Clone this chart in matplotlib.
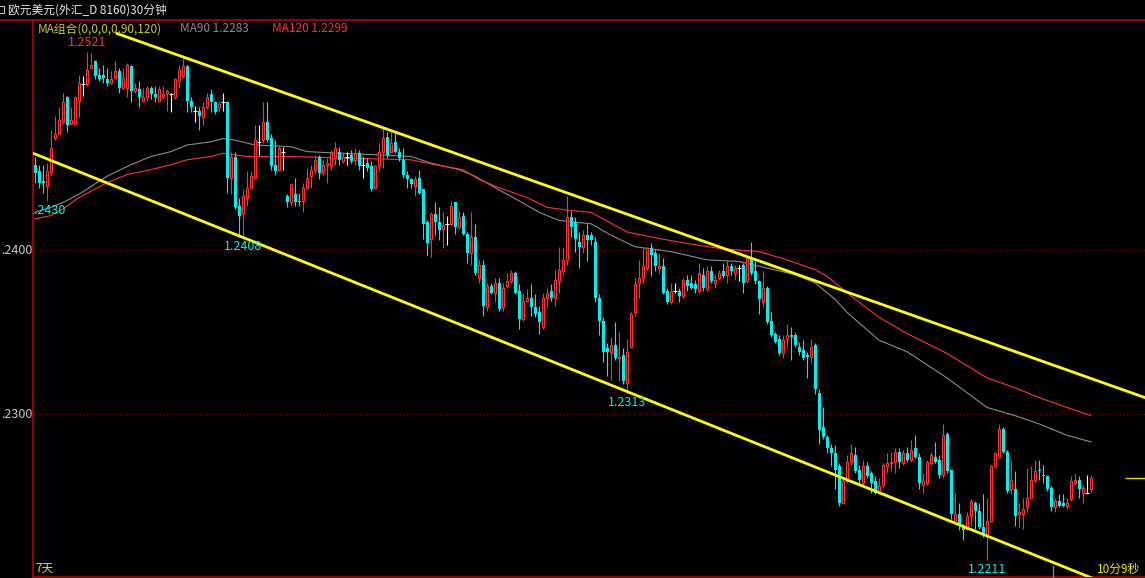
import numpy as np
import matplotlib
matplotlib.use("Agg")
import matplotlib.pyplot as plt
from matplotlib.patches import Rectangle

plt.rcParams['font.family'] = ['Noto Sans CJK SC', 'DejaVu Sans']

# EUR/USD 30 minute bars, oldest first
opens = [
    1.2452, 1.2448, 1.2442, 1.2439, 1.2447, 1.2468, 1.2471, 1.2478, 1.2493, 1.2477,
    1.2477, 1.2491, 1.2501, 1.2501, 1.2511, 1.2515, 1.2507, 1.2507, 1.2504, 1.2502,
    1.2505, 1.2509, 1.2499, 1.2499, 1.2512, 1.2497, 1.2498, 1.2491, 1.2493, 1.2499,
    1.2495, 1.2491, 1.2493, 1.2496, 1.2495, 1.2493, 1.2503, 1.2506, 1.2512, 1.2491,
    1.2485, 1.2485, 1.2481, 1.2487, 1.2495, 1.2490, 1.2487, 1.2490, 1.2490, 1.2444,
    1.2457, 1.2427, 1.2422, 1.2432, 1.2438, 1.2444, 1.2466, 1.2467, 1.2478, 1.2468,
    1.2452, 1.2449, 1.2460, 1.2433, 1.2429, 1.2434, 1.2430, 1.2430, 1.2438, 1.2445,
    1.2449, 1.2457, 1.2447, 1.2452, 1.2451, 1.2456, 1.2460, 1.2454, 1.2457, 1.2458,
    1.2455, 1.2459, 1.2452, 1.2453, 1.2451, 1.2438, 1.2451, 1.2460, 1.2469, 1.2460,
    1.2466, 1.2460, 1.2455, 1.2446, 1.2443, 1.2439, 1.2444, 1.2437, 1.2417, 1.2407,
    1.2422, 1.2417, 1.2413, 1.2416, 1.2416, 1.2429, 1.2414, 1.2421, 1.2410, 1.2398,
    1.2408, 1.2383, 1.2391, 1.2365, 1.2378, 1.2374, 1.2380, 1.2365, 1.2378, 1.2381,
    1.2386, 1.2375, 1.2358, 1.2369, 1.2371, 1.2365, 1.2362, 1.2353, 1.2371, 1.2375,
    1.2371, 1.2381, 1.2387, 1.2394, 1.2420, 1.2417, 1.2405, 1.2402, 1.2409, 1.2409,
    1.2405, 1.2371, 1.2357, 1.2340, 1.2338, 1.2342, 1.2334, 1.2336, 1.2319, 1.2341,
    1.2362, 1.2380, 1.2383, 1.2389, 1.2401, 1.2398, 1.2389, 1.2390, 1.2375, 1.2368,
    1.2375, 1.2375, 1.2372, 1.2382, 1.2380, 1.2379, 1.2375, 1.2385, 1.2376, 1.2387,
    1.2380, 1.2383, 1.2387, 1.2385, 1.2390, 1.2386, 1.2389, 1.2391, 1.2381, 1.2395,
    1.2387, 1.2381, 1.2368, 1.2377, 1.2357, 1.2349, 1.2346, 1.2337, 1.2346, 1.2348,
    1.2348, 1.2341, 1.2339, 1.2336, 1.2335, 1.2342, 1.2313, 1.2292, 1.2286, 1.2279,
    1.2276, 1.2268, 1.2246, 1.2259, 1.2271, 1.2275, 1.2266, 1.2258, 1.2268, 1.2264,
    1.2259, 1.2252, 1.2257, 1.2268, 1.2270, 1.2271, 1.2277, 1.2270, 1.2276, 1.2272,
    1.2279, 1.2274, 1.2257, 1.2258, 1.2270, 1.2274, 1.2272, 1.2263, 1.2288, 1.2266,
    1.2235, 1.2239, 1.2232, 1.2230, 1.2238, 1.2246, 1.2241, 1.2231, 1.2226, 1.2235,
    1.2268, 1.2274, 1.2291, 1.2277, 1.2254, 1.2254, 1.2239, 1.2239, 1.2243, 1.2249,
    1.2260, 1.2266, 1.2263, 1.2262, 1.2255, 1.2243, 1.2247, 1.2246, 1.2244, 1.2248,
    1.2258, 1.2260, 1.2252, 1.2252, 1.2254,
]
highs = [
    1.2457, 1.2452, 1.2452, 1.2453, 1.2473, 1.2482, 1.2487, 1.2496, 1.2494, 1.2487,
    1.2494, 1.2507, 1.2506, 1.2521, 1.2520, 1.2516, 1.2511, 1.2513, 1.2511, 1.2509,
    1.2515, 1.2511, 1.2511, 1.2514, 1.2513, 1.2502, 1.2503, 1.2499, 1.2500, 1.2500,
    1.2500, 1.2500, 1.2500, 1.2498, 1.2496, 1.2505, 1.2513, 1.2517, 1.2513, 1.2493,
    1.2488, 1.2487, 1.2490, 1.2496, 1.2498, 1.2491, 1.2491, 1.2496, 1.2491, 1.2460,
    1.2460, 1.2432, 1.2437, 1.2448, 1.2448, 1.2476, 1.2476, 1.2490, 1.2490, 1.2471,
    1.2467, 1.2464, 1.2463, 1.2434, 1.2441, 1.2444, 1.2435, 1.2441, 1.2450, 1.2452,
    1.2458, 1.2458, 1.2455, 1.2456, 1.2461, 1.2466, 1.2463, 1.2460, 1.2460, 1.2461,
    1.2462, 1.2461, 1.2457, 1.2456, 1.2454, 1.2452, 1.2465, 1.2475, 1.2472, 1.2472,
    1.2472, 1.2462, 1.2462, 1.2448, 1.2444, 1.2445, 1.2449, 1.2437, 1.2418, 1.2423,
    1.2429, 1.2426, 1.2423, 1.2421, 1.2430, 1.2429, 1.2424, 1.2423, 1.2411, 1.2423,
    1.2416, 1.2394, 1.2394, 1.2380, 1.2380, 1.2383, 1.2383, 1.2380, 1.2386, 1.2388,
    1.2387, 1.2379, 1.2374, 1.2376, 1.2379, 1.2373, 1.2366, 1.2374, 1.2377, 1.2379,
    1.2388, 1.2402, 1.2402, 1.2433, 1.2424, 1.2420, 1.2411, 1.2412, 1.2416, 1.2411,
    1.2408, 1.2373, 1.2359, 1.2343, 1.2347, 1.2356, 1.2350, 1.2340, 1.2346, 1.2362,
    1.2383, 1.2394, 1.2401, 1.2402, 1.2404, 1.2400, 1.2398, 1.2395, 1.2377, 1.2380,
    1.2380, 1.2377, 1.2383, 1.2385, 1.2385, 1.2382, 1.2392, 1.2389, 1.2390, 1.2390,
    1.2385, 1.2388, 1.2392, 1.2393, 1.2392, 1.2391, 1.2391, 1.2392, 1.2396, 1.2405,
    1.2393, 1.2382, 1.2387, 1.2378, 1.2362, 1.2350, 1.2348, 1.2348, 1.2355, 1.2353,
    1.2350, 1.2344, 1.2345, 1.2338, 1.2346, 1.2343, 1.2315, 1.2304, 1.2287, 1.2282,
    1.2281, 1.2270, 1.2261, 1.2275, 1.2282, 1.2280, 1.2269, 1.2272, 1.2271, 1.2265,
    1.2262, 1.2261, 1.2270, 1.2276, 1.2277, 1.2279, 1.2279, 1.2278, 1.2280, 1.2284,
    1.2287, 1.2276, 1.2264, 1.2272, 1.2277, 1.2283, 1.2275, 1.2294, 1.2289, 1.2266,
    1.2252, 1.2246, 1.2233, 1.2240, 1.2248, 1.2247, 1.2246, 1.2251, 1.2249, 1.2269,
    1.2277, 1.2294, 1.2292, 1.2278, 1.2272, 1.2265, 1.2246, 1.2249, 1.2267, 1.2268,
    1.2272, 1.2272, 1.2269, 1.2263, 1.2256, 1.2249, 1.2251, 1.2251, 1.2249, 1.2262,
    1.2264, 1.2262, 1.2257, 1.2263, 1.2263,
]
lows = [
    1.2441, 1.2438, 1.2435, 1.2430, 1.2446, 1.2467, 1.2470, 1.2477, 1.2472, 1.2476,
    1.2476, 1.2481, 1.2494, 1.2500, 1.2511, 1.2504, 1.2503, 1.2502, 1.2500, 1.2501,
    1.2504, 1.2496, 1.2498, 1.2493, 1.2490, 1.2496, 1.2487, 1.2490, 1.2491, 1.2492,
    1.2490, 1.2490, 1.2492, 1.2485, 1.2484, 1.2492, 1.2499, 1.2505, 1.2484, 1.2484,
    1.2478, 1.2473, 1.2476, 1.2486, 1.2484, 1.2483, 1.2484, 1.2485, 1.2435, 1.2434,
    1.2425, 1.2408, 1.2408, 1.2427, 1.2437, 1.2443, 1.2458, 1.2465, 1.2466, 1.2449,
    1.2446, 1.2448, 1.2449, 1.2426, 1.2427, 1.2427, 1.2427, 1.2423, 1.2437, 1.2438,
    1.2447, 1.2443, 1.2446, 1.2441, 1.2449, 1.2452, 1.2452, 1.2453, 1.2452, 1.2453,
    1.2452, 1.2449, 1.2444, 1.2448, 1.2436, 1.2437, 1.2448, 1.2450, 1.2456, 1.2459,
    1.2459, 1.2454, 1.2444, 1.2438, 1.2438, 1.2433, 1.2434, 1.2407, 1.2397, 1.2396,
    1.2409, 1.2406, 1.2401, 1.2403, 1.2415, 1.2410, 1.2413, 1.2409, 1.2392, 1.2391,
    1.2385, 1.2380, 1.2360, 1.2363, 1.2373, 1.2368, 1.2363, 1.2363, 1.2377, 1.2380,
    1.2373, 1.2352, 1.2357, 1.2368, 1.2360, 1.2359, 1.2349, 1.2352, 1.2365, 1.2369,
    1.2366, 1.2374, 1.2385, 1.2391, 1.2408, 1.2399, 1.2389, 1.2398, 1.2393, 1.2403,
    1.2368, 1.2348, 1.2332, 1.2323, 1.2321, 1.2333, 1.2320, 1.2318, 1.2313, 1.2340,
    1.2360, 1.2371, 1.2380, 1.2388, 1.2384, 1.2387, 1.2386, 1.2373, 1.2367, 1.2367,
    1.2374, 1.2368, 1.2371, 1.2375, 1.2376, 1.2374, 1.2374, 1.2375, 1.2375, 1.2380,
    1.2377, 1.2382, 1.2383, 1.2380, 1.2385, 1.2382, 1.2381, 1.2374, 1.2380, 1.2385,
    1.2379, 1.2361, 1.2365, 1.2355, 1.2347, 1.2343, 1.2336, 1.2334, 1.2341, 1.2333,
    1.2341, 1.2336, 1.2333, 1.2322, 1.2331, 1.2312, 1.2282, 1.2285, 1.2276, 1.2268,
    1.2254, 1.2244, 1.2245, 1.2258, 1.2269, 1.2264, 1.2257, 1.2257, 1.2261, 1.2252,
    1.2251, 1.2251, 1.2255, 1.2264, 1.2265, 1.2264, 1.2267, 1.2269, 1.2271, 1.2271,
    1.2273, 1.2254, 1.2252, 1.2257, 1.2269, 1.2270, 1.2261, 1.2261, 1.2264, 1.2236,
    1.2234, 1.2229, 1.2223, 1.2229, 1.2232, 1.2230, 1.2230, 1.2225, 1.2211, 1.2234,
    1.2267, 1.2273, 1.2276, 1.2252, 1.2251, 1.2232, 1.2231, 1.2230, 1.2240, 1.2248,
    1.2258, 1.2260, 1.2258, 1.2253, 1.2241, 1.2240, 1.2243, 1.2243, 1.2242, 1.2247,
    1.2257, 1.2249, 1.2246, 1.2251, 1.2252,
]
closes = [
    1.2447, 1.2441, 1.2441, 1.2448, 1.2462, 1.2471, 1.2479, 1.2490, 1.2476, 1.2479,
    1.2493, 1.2502, 1.2501, 1.2510, 1.2513, 1.2506, 1.2504, 1.2505, 1.2502, 1.2504,
    1.2509, 1.2499, 1.2505, 1.2513, 1.2497, 1.2499, 1.2493, 1.2493, 1.2499, 1.2495,
    1.2493, 1.2498, 1.2495, 1.2497, 1.2495, 1.2504, 1.2510, 1.2512, 1.2491, 1.2487,
    1.2485, 1.2482, 1.2487, 1.2493, 1.2490, 1.2484, 1.2489, 1.2490, 1.2444, 1.2457,
    1.2426, 1.2421, 1.2433, 1.2438, 1.2445, 1.2467, 1.2466, 1.2478, 1.2467, 1.2451,
    1.2448, 1.2462, 1.2460, 1.2429, 1.2440, 1.2429, 1.2429, 1.2438, 1.2444, 1.2449,
    1.2455, 1.2447, 1.2452, 1.2453, 1.2459, 1.2462, 1.2455, 1.2457, 1.2457, 1.2454,
    1.2459, 1.2451, 1.2452, 1.2450, 1.2437, 1.2451, 1.2460, 1.2468, 1.2458, 1.2465,
    1.2460, 1.2456, 1.2446, 1.2443, 1.2440, 1.2443, 1.2435, 1.2416, 1.2404, 1.2422,
    1.2417, 1.2412, 1.2415, 1.2416, 1.2427, 1.2414, 1.2420, 1.2410, 1.2398, 1.2408,
    1.2386, 1.2391, 1.2366, 1.2378, 1.2374, 1.2380, 1.2364, 1.2377, 1.2381, 1.2386,
    1.2374, 1.2358, 1.2369, 1.2371, 1.2365, 1.2361, 1.2356, 1.2371, 1.2374, 1.2371,
    1.2382, 1.2388, 1.2394, 1.2420, 1.2414, 1.2407, 1.2402, 1.2409, 1.2406, 1.2406,
    1.2371, 1.2357, 1.2338, 1.2338, 1.2342, 1.2334, 1.2335, 1.2320, 1.2338, 1.2361,
    1.2379, 1.2383, 1.2390, 1.2401, 1.2397, 1.2390, 1.2390, 1.2374, 1.2368, 1.2375,
    1.2375, 1.2372, 1.2382, 1.2378, 1.2377, 1.2376, 1.2386, 1.2377, 1.2387, 1.2381,
    1.2382, 1.2386, 1.2384, 1.2390, 1.2387, 1.2389, 1.2389, 1.2380, 1.2395, 1.2386,
    1.2381, 1.2370, 1.2377, 1.2356, 1.2348, 1.2344, 1.2337, 1.2345, 1.2348, 1.2347,
    1.2342, 1.2338, 1.2334, 1.2335, 1.2341, 1.2315, 1.2290, 1.2286, 1.2279, 1.2276,
    1.2266, 1.2246, 1.2259, 1.2271, 1.2276, 1.2265, 1.2260, 1.2268, 1.2262, 1.2258,
    1.2252, 1.2256, 1.2269, 1.2270, 1.2271, 1.2277, 1.2271, 1.2276, 1.2272, 1.2278,
    1.2274, 1.2258, 1.2259, 1.2271, 1.2275, 1.2271, 1.2263, 1.2287, 1.2265, 1.2239,
    1.2239, 1.2233, 1.2229, 1.2238, 1.2247, 1.2241, 1.2231, 1.2226, 1.2235, 1.2268,
    1.2276, 1.2291, 1.2277, 1.2253, 1.2260, 1.2238, 1.2240, 1.2242, 1.2249, 1.2260,
    1.2265, 1.2265, 1.2262, 1.2254, 1.2243, 1.2247, 1.2244, 1.2244, 1.2246, 1.2259,
    1.2260, 1.2254, 1.2255, 1.2252, 1.2261,
]

# moving averages, read at a few bar positions
ma90_idx = [0, 4, 7, 11, 18, 24, 29, 34, 38, 44, 47, 50, 55, 64, 68, 76, 86, 94, 99, 106,
            110, 115, 121, 126, 131, 139, 144, 150, 159, 168, 176, 190, 195, 200, 203, 211,
            218, 228, 238, 245, 251, 258, 264]
ma90 = [1.2423, 1.2426, 1.2429, 1.2434, 1.2445, 1.2452, 1.2457, 1.2460, 1.2464, 1.2466,
        1.2468, 1.2467, 1.2464, 1.2463, 1.2460, 1.2459, 1.2458, 1.2457, 1.2453, 1.2449,
        1.2445, 1.2438, 1.2430, 1.2423, 1.2418, 1.2416, 1.2409, 1.2402, 1.2399, 1.2394,
        1.2393, 1.2385, 1.2380, 1.2370, 1.2362, 1.2345, 1.2338, 1.2322, 1.2304, 1.2299,
        1.2294, 1.2287, 1.2283]
ma120_idx = [0, 4, 7, 11, 18, 23, 29, 34, 38, 44, 47, 53, 64, 78, 94, 100, 107, 111, 116,
             123, 128, 134, 139, 148, 156, 163, 171, 181, 188, 195, 198, 203, 205, 211, 218,
             228, 238, 245, 251, 258, 264]
ma120 = [1.2419, 1.2421, 1.2425, 1.2432, 1.2441, 1.2446, 1.2449, 1.2452, 1.2455, 1.2457,
         1.2459, 1.2457, 1.2457, 1.2456, 1.2455, 1.2452, 1.2449, 1.2443, 1.2438, 1.2432,
         1.2426, 1.2424, 1.2423, 1.2411, 1.2407, 1.2404, 1.2401, 1.2399, 1.2394, 1.2388,
         1.2384, 1.2374, 1.2370, 1.2359, 1.2349, 1.2337, 1.2322, 1.2316, 1.2310, 1.2304,
         1.2299]

# hand drawn channel (bar index, price)
upper_x = [20.5, 277.5]
upper_y = [1.2532, 1.2310]
lower_x = [-0.5, 277.5]
lower_y = [1.2459, 1.2187]

# bars whose low is labelled on the chart
labelled_lows = [3, 52, 148, 238]

UP = '#FF3232'
DOWN = '#00F0F0'
FRAME = '#B40000'

o = np.array(opens)
h = np.array(highs)
l = np.array(lows)
c = np.array(closes)
x = np.arange(len(c))
up = c > o
down = c < o
flat = c == o

W, H = 1145, 578
fig = plt.figure(figsize=(W / 100, H / 100), dpi=100, facecolor='black')
ax = fig.add_axes([33 / W, 1 / H, (W - 33) / W, 557 / H], facecolor='black')
ax.set_xlim(-0.5, 277.5)
ax.set_ylim(1.220061, 1.254024)
ax.set_xticks([])
ax.set_yticks([])
for s in ['top', 'right']:
    ax.spines[s].set_visible(False)
for s in ['left', 'bottom']:
    ax.spines[s].set_color(FRAME)
    ax.spines[s].set_linewidth(1.2)

# dotted price grid
for lvl in [1.24, 1.23]:
    ax.axhline(lvl, color='#8C0000', lw=0.8, ls=(0, (1, 2)), zorder=1)

# moving averages
ax.plot(ma90_idx, ma90, color='#8C8C8C', lw=0.8, zorder=2)
ax.plot(ma120_idx, ma120, color=UP, lw=0.8, zorder=2)

# wicks
ax.vlines(x[down], l[down], h[down], color=DOWN, lw=0.8, zorder=3)
ax.vlines(x[up], l[up], o[up], color=UP, lw=0.8, zorder=3)
ax.vlines(x[up], c[up], h[up], color=UP, lw=0.8, zorder=3)
ax.vlines(x[flat], l[flat], h[flat], color='white', lw=0.8, zorder=3)

# bodies
ax.bar(x[down], o[down] - c[down], bottom=c[down], width=0.75, color=DOWN,
       linewidth=0, zorder=4)
ax.bar(x[up], c[up] - o[up], bottom=o[up], width=0.7, facecolor='black',
       edgecolor=UP, linewidth=0.8, zorder=4)
ax.hlines(o[flat], x[flat] - 0.4, x[flat] + 0.4, color='white', lw=0.8, zorder=4)

# channel
ax.plot(upper_x, upper_y, color='#FFFF00', lw=2.0, zorder=5)
ax.plot(lower_x, lower_y, color='#FFFF00', lw=2.0, zorder=5)

# last price marker on the right
ax.hlines(c[-1], 272.5, 277.5, color='#E0E000', lw=1.0, zorder=5)

# high / low labels
lbl = dict(fontsize=9, ha='center', clip_on=True, zorder=6)
hi = int(np.argmax(h))
ax.annotate(f'{h[hi]:.4f}', (hi, h[hi]), xytext=(0, 3), textcoords='offset pixels',
            va='bottom', color=UP, **lbl)
for i in labelled_lows:
    ax.annotate(f'{l[i]:.4f}', (i, l[i]), xytext=(0, -3), textcoords='offset pixels',
                va='top', color=DOWN, **lbl)


def ftext(px, py, s, **kw):
    fig.text(px / W, 1 - py / H, s, **kw)


# header
fig.add_artist(plt.Line2D([0, 1], [1 - 20 / H, 1 - 20 / H], color=FRAME, lw=1.2))
fig.add_artist(Rectangle((-3 / W, 1 - 13 / H), 7 / W, 7 / H, fill=False,
                         edgecolor='#C0C0C0', lw=0.8))
ftext(8, 10, '欧元美元(外汇_D 8160)30分钟', color='#E6E6E6', fontsize=8.5, va='center')
ftext(38, 29, 'MA组合(0,0,0,0,90,120)', color='#C8C828', fontsize=8.5, va='center')
ftext(180, 29, 'MA90 1.2283', color='#8C8C8C', fontsize=8.5, va='center')
ftext(272, 29, 'MA120 1.2299', color=UP, fontsize=8.5, va='center')

# price axis labels (cut off by the narrow axis panel)
for lvl in [1.24, 1.23]:
    py = 250 + (1.24 - lvl) * 16400
    ftext(32, py, f'{lvl:.4f}'[1:], color='#C8C8C8', fontsize=9, ha='right', va='center')

# footer
ftext(35, 568, '7天', color='#E6E600', fontsize=8.5, va='center')
ftext(1140, 569, '10分9秒', color='#E6E600', fontsize=8.5, va='center', ha='right')
fig.add_artist(plt.Line2D([1053 / W, 1053 / W], [1 / H, 12 / H], color='#808080', lw=1))

fig.savefig('out.png', dpi=100, facecolor='black')
